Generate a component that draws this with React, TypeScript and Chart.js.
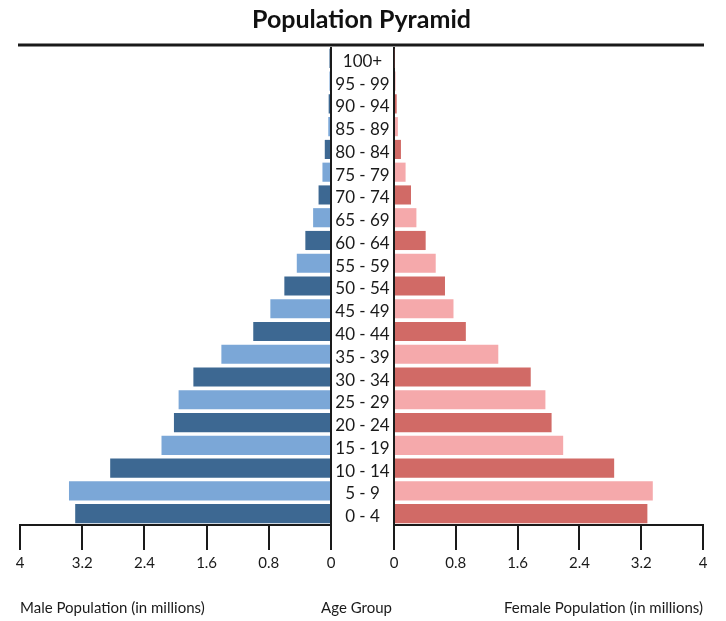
import React, { useEffect, useRef } from 'react';
import { Chart, registerables } from 'chart.js';

Chart.register(...registerables);

const ageGroups = ['100+', '95 - 99', '90 - 94', '85 - 89', '80 - 84', '75 - 79', '70 - 74', '65 - 69', '60 - 64', '55 - 59', '50 - 54', '45 - 49', '40 - 44', '35 - 39', '30 - 34', '25 - 29', '20 - 24', '15 - 19', '10 - 14', '5 - 9', '0 - 4'];
const malePopulation = [0.02, 0.02, 0.03, 0.035, 0.08, 0.11, 0.16, 0.23, 0.33, 0.44, 0.6, 0.78, 1.0, 1.41, 1.77, 1.96, 2.02, 2.18, 2.84, 3.37, 3.29];
const femalePopulation = [0.01, 0.02, 0.035, 0.05, 0.09, 0.15, 0.22, 0.29, 0.41, 0.54, 0.66, 0.77, 0.93, 1.35, 1.77, 1.96, 2.04, 2.19, 2.85, 3.35, 3.28];
const tickValues = [0, 0.8, 1.6, 2.4, 3.2, 4];
const middleTitle = 'Age Group';

const MALE_DARK = '#3d6892';
const MALE_LIGHT = '#7ba7d7';
const FEMALE_DARK = '#d16a66';
const FEMALE_LIGHT = '#f5a9ab';
const INK = '#1a1a1a';
const FONT = 'Lato';
const TITLE_SIZE = 15;

const isDark = (i: number) => (ageGroups.length - 1 - i) % 2 === 0;

const decorPlugin = {
  id: 'pyramidDecor',
  afterDatasetsDraw(chart: any) {
    const { ctx, chartArea, scales } = chart;
    const y = scales.y;
    const cx = (scales.xm.right + scales.xf.left) / 2;
    ctx.save();
    ctx.font = `17px ${FONT}`;
    ctx.fillStyle = INK;
    ctx.textAlign = 'center';
    ctx.textBaseline = 'middle';
    ageGroups.forEach((label, i) => {
      ctx.fillText(label, cx, y.getPixelForValue(i) + 3);
    });
    // middle axis title (drawn without the narrow column's width limit)
    ctx.font = `${TITLE_SIZE}px ${FONT}`;
    ctx.fillText(middleTitle, cx - 6, scales.xmid.bottom - (TITLE_SIZE * 1.2) / 2);
    ctx.strokeStyle = INK;
    ctx.lineWidth = 3;
    ctx.beginPath();
    ctx.moveTo(chartArea.left - 2, chartArea.top - 2);
    ctx.lineTo(chartArea.right + 1, chartArea.top - 2);
    ctx.stroke();
    ctx.restore();
  },
};

const tickFont = { family: FONT, size: 15 };
const titleFont = { family: FONT, size: TITLE_SIZE, lineHeight: 1.2 };

const zeroGrid = {
  color: (c: any) => (c.tick && Math.abs(c.tick.value) < 1e-9 ? INK : 'rgba(0,0,0,0)'),
  tickColor: INK,
  tickLength: 25,
  lineWidth: 2,
  drawOnChartArea: true,
};

export default function App() {
  const ref = useRef<HTMLCanvasElement | null>(null);
  useEffect(() => {
    if (!ref.current) return;
    const chart = new Chart(ref.current, {
      type: 'bar',
      data: {
        labels: ageGroups,
        datasets: [
          {
            label: 'Male',
            data: malePopulation.map((v) => -v),
            xAxisID: 'xm',
            yAxisID: 'y',
            backgroundColor: ageGroups.map((_, i) => (isDark(i) ? MALE_DARK : MALE_LIGHT)),
            grouped: false,
            barPercentage: 0.84,
            categoryPercentage: 1,
          } as any,
          {
            label: 'Female',
            data: femalePopulation,
            xAxisID: 'xf',
            yAxisID: 'y',
            backgroundColor: ageGroups.map((_, i) => (isDark(i) ? FEMALE_DARK : FEMALE_LIGHT)),
            grouped: false,
            barPercentage: 0.84,
            categoryPercentage: 1,
          } as any,
        ],
      },
      options: {
        indexAxis: 'y',
        animation: false,
        responsive: false,
        layout: { padding: { left: 20, right: 23, top: 0, bottom: 4 } },
        plugins: {
          legend: { display: false },
          tooltip: { enabled: false },
          title: {
            display: true,
            text: 'Population Pyramid',
            color: '#111',
            font: { family: FONT, size: 25, weight: 'bold', lineHeight: 1.2 },
            padding: { top: 5, bottom: 12 },
          },
        },
        scales: {
          xm: {
            type: 'linear',
            position: 'bottom',
            stack: 'bottom',
            stackWeight: 311,
            min: -4,
            max: 0,
            afterBuildTicks: (s: any) => {
              s.ticks = tickValues.map((v) => ({ value: -v })).reverse();
            },
            ticks: {
              callback: (v: any) => String(Math.abs(Number(v))),
              font: tickFont,
              color: INK,
              padding: 4,
              maxRotation: 0,
              autoSkip: false,
            },
            grid: zeroGrid,
            border: { display: true, color: INK, width: 2 },
            title: {
              display: true,
              text: 'Male Population (in millions)',
              align: 'start',
              color: INK,
              font: titleFont,
              padding: { top: 23, bottom: 0 },
            },
          },
          xmid: {
            type: 'linear',
            position: 'bottom',
            stack: 'bottom',
            stackWeight: 63,
            min: 0,
            max: 1,
            ticks: { display: false },
            grid: { display: false, drawTicks: false },
            border: { display: false },
            title: { display: false },
          },
          xf: {
            type: 'linear',
            position: 'bottom',
            stack: 'bottom',
            stackWeight: 309,
            min: 0,
            max: 4,
            afterBuildTicks: (s: any) => {
              s.ticks = tickValues.map((v) => ({ value: v }));
            },
            ticks: {
              callback: (v: any) => String(Number(v)),
              font: tickFont,
              color: INK,
              padding: 4,
              maxRotation: 0,
              autoSkip: false,
            },
            grid: zeroGrid,
            border: { display: true, color: INK, width: 2 },
            title: {
              display: true,
              text: 'Female Population (in millions)',
              align: 'end',
              color: INK,
              font: titleFont,
              padding: { top: 23, bottom: 0 },
            },
          },
          y: {
            type: 'category',
            display: false,
          },
        },
      } as any,
      plugins: [decorPlugin],
    });
    return () => chart.destroy();
  }, []);

  return (
    <div style={{ position: 'fixed', left: 0, top: 0, width: 726, height: 621, background: '#fff' }}>
      <canvas ref={ref} width={726} height={621} style={{ display: 'block' }} />
    </div>
  );
}
